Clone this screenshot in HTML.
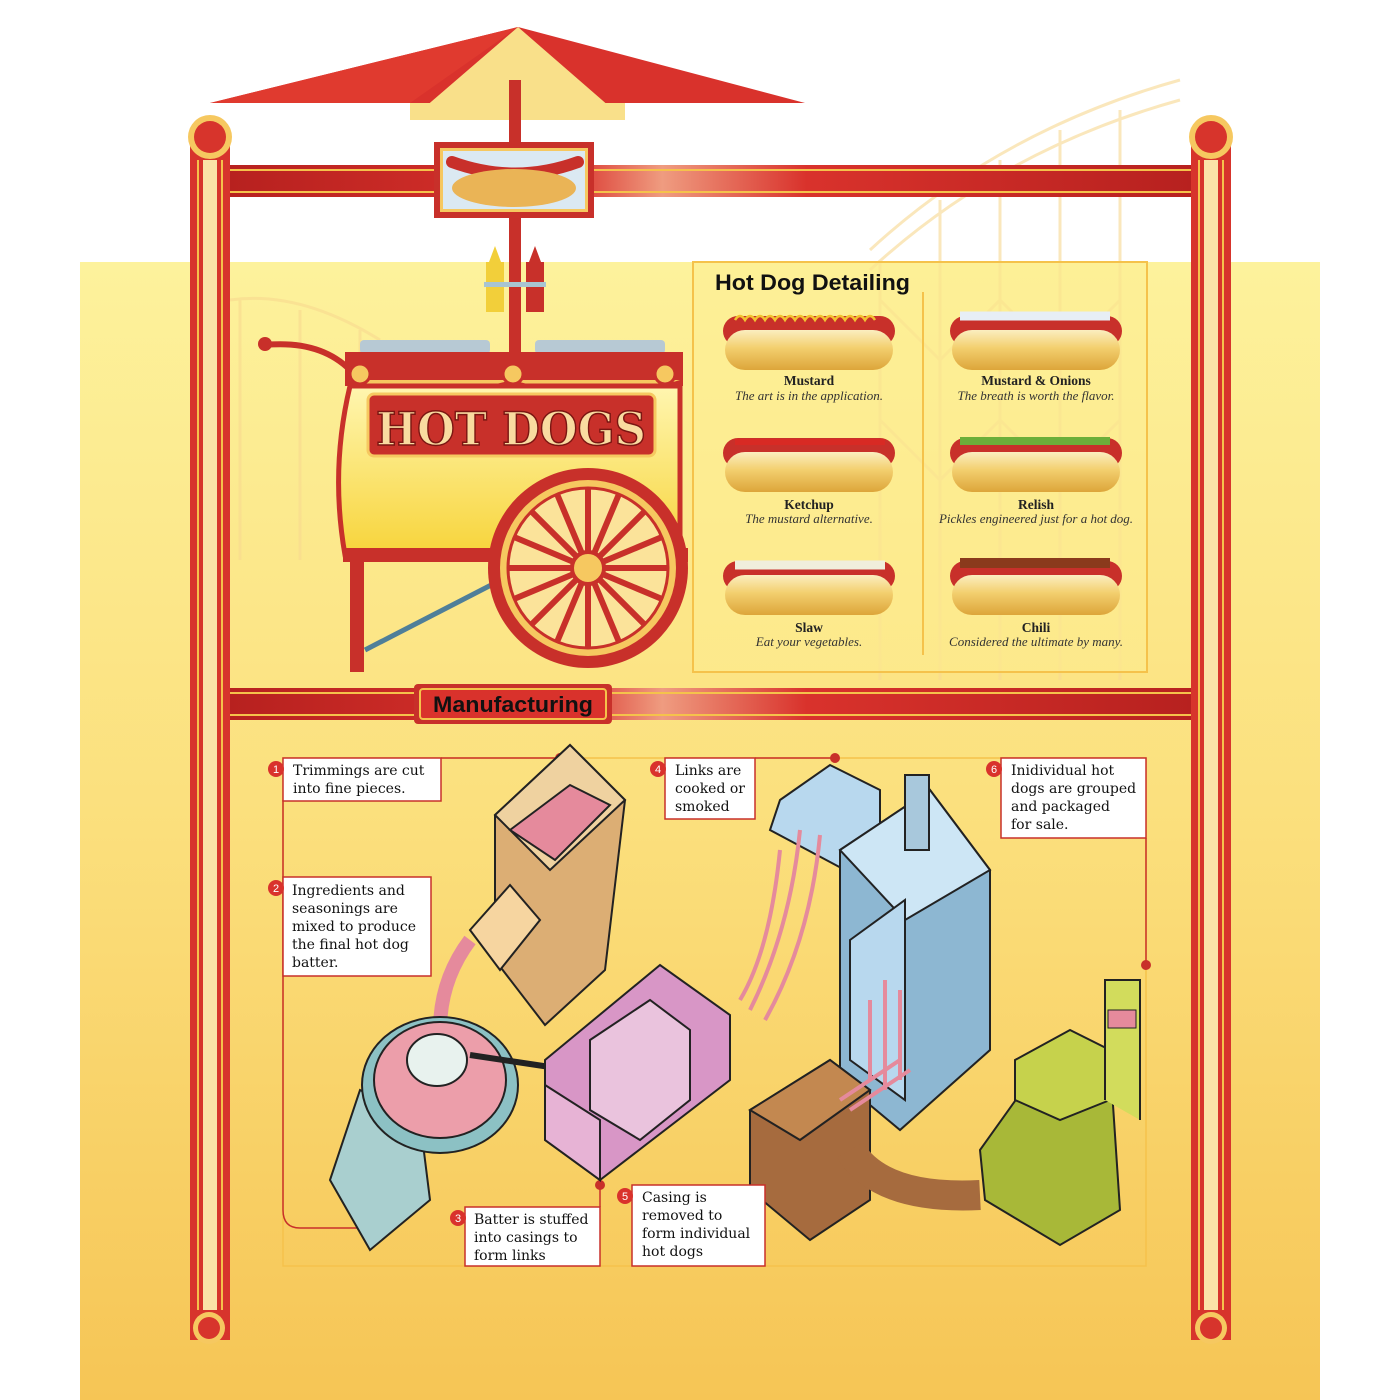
<!DOCTYPE html>
<html><head><meta charset="utf-8"><style>
html,body{margin:0;padding:0;background:#fff}
svg{display:block}
.c{font-family:"Liberation Serif",serif;font-size:13.5px;font-weight:bold;fill:#222;text-anchor:middle}
.ci{font-family:"Liberation Serif",serif;font-size:13px;font-style:italic;fill:#333;text-anchor:middle}
</style></head><body>
<svg width="1400" height="1400" viewBox="0 0 1400 1400" xmlns="http://www.w3.org/2000/svg">
<defs>
<linearGradient id="bg" x1="0" y1="0" x2="0" y2="1"><stop offset="0" stop-color="#fdf29c"/><stop offset="0.5" stop-color="#fbdf7c"/><stop offset="1" stop-color="#f6c555"/></linearGradient>
<linearGradient id="bar" x1="0" y1="0" x2="1" y2="0"><stop offset="0" stop-color="#b7211f"/><stop offset="0.35" stop-color="#d9322c"/><stop offset="0.45" stop-color="#ef9c80"/><stop offset="0.6" stop-color="#d9322c"/><stop offset="1" stop-color="#b7211f"/></linearGradient>
<linearGradient id="bun" x1="0" y1="0" x2="0" y2="1"><stop offset="0" stop-color="#fbeec0"/><stop offset="0.45" stop-color="#f3cf6e"/><stop offset="1" stop-color="#dda53a"/></linearGradient>
<linearGradient id="cart" x1="0" y1="0" x2="0" y2="1"><stop offset="0" stop-color="#fff6b0"/><stop offset="1" stop-color="#f7d43a"/></linearGradient>
<g id="bunG">
<rect x="-86" y="-22" width="172" height="30" rx="15" fill="#c8302a"/>
<rect x="-84" y="-8" width="168" height="40" rx="20" fill="url(#bun)"/>
</g>
</defs>
<rect x="80" y="262" width="1240" height="1138" fill="url(#bg)"/>
<g stroke="#f8d890" stroke-width="3" fill="none" opacity="0.6">
<path d="M870 250 Q1000 130 1180 80"/><path d="M870 270 Q1000 150 1180 100"/>
<path d="M880 260 V680 M940 200 V680 M1000 160 V680 M1060 130 V680 M1120 110 V680"/>
<path d="M880 300 L940 360 L1000 300 L1060 360 L1120 300 M880 420 L940 480 L1000 420 L1060 480 L1120 420"/>
<path d="M240 300 V560 M300 310 V560 M360 330 V560 M230 300 Q300 290 380 340"/>
</g>
<polygon points="518,27 210,103 805,103" fill="#d9322c"/>
<polygon points="518,27 410,120 625,120" fill="#f9e08a"/>
<polygon points="410,103 625,103 625,120 410,120" fill="#f9e08a"/>
<polygon points="518,27 210,103 410,103" fill="#e03a2f"/>
<rect x="509" y="80" width="12" height="280" fill="#c8302a"/>
<g>
<rect x="190" y="140" width="40" height="1200" fill="#d7342c"/>
<rect x="203" y="160" width="14" height="1150" fill="#fbe3a8"/>
<line x1="198" y1="160" x2="198" y2="1310" stroke="#f5c24b" stroke-width="2"/><line x1="222" y1="160" x2="222" y2="1310" stroke="#f5c24b" stroke-width="2"/>
<circle cx="210" cy="137" r="22" fill="#f6c860"/><circle cx="210" cy="137" r="16" fill="#d7342c"/>
<circle cx="209" cy="1328" r="16" fill="#f6c860"/><circle cx="209" cy="1328" r="11" fill="#d7342c"/>
<rect x="1191" y="140" width="40" height="1200" fill="#d7342c"/>
<rect x="1204" y="160" width="14" height="1150" fill="#fbe3a8"/>
<line x1="1199" y1="160" x2="1199" y2="1310" stroke="#f5c24b" stroke-width="2"/><line x1="1223" y1="160" x2="1223" y2="1310" stroke="#f5c24b" stroke-width="2"/>
<circle cx="1211" cy="137" r="22" fill="#f6c860"/><circle cx="1211" cy="137" r="16" fill="#d7342c"/>
<circle cx="1211" cy="1328" r="16" fill="#f6c860"/><circle cx="1211" cy="1328" r="11" fill="#d7342c"/>
</g>
<rect x="230" y="165" width="961" height="32" fill="url(#bar)"/>
<line x1="230" y1="170" x2="1191" y2="170" stroke="#f5c24b" stroke-width="2"/><line x1="230" y1="192" x2="1191" y2="192" stroke="#f5c24b" stroke-width="2"/>
<rect x="230" y="688" width="961" height="32" fill="url(#bar)"/>
<line x1="230" y1="693" x2="1191" y2="693" stroke="#f5c24b" stroke-width="2"/><line x1="230" y1="715" x2="1191" y2="715" stroke="#f5c24b" stroke-width="2"/>
<rect x="434" y="142" width="160" height="76" fill="#c8302a"/>
<rect x="440" y="148" width="148" height="64" fill="#f6c860"/>
<rect x="443" y="151" width="142" height="58" fill="#dbe9f2"/>
<path d="M452 162 Q515 185 578 162" stroke="#c8302a" stroke-width="12" fill="none" stroke-linecap="round"/>
<ellipse cx="514" cy="188" rx="62" ry="19" fill="#eab456"/>
<rect x="486" y="262" width="18" height="50" fill="#f2cf3a"/><polygon points="489,262 495,246 501,262" fill="#f2cf3a"/>
<rect x="526" y="262" width="18" height="50" fill="#c8302a"/><polygon points="529,262 535,246 541,262" fill="#c8302a"/>
<rect x="484" y="282" width="62" height="5" fill="#a8c4d2"/>
<path d="M265 345 Q320 340 350 370" stroke="#c8302a" stroke-width="6" fill="none"/><circle cx="265" cy="344" r="7" fill="#c8302a"/>
<rect x="360" y="340" width="130" height="14" rx="4" fill="#b7c9d4"/><rect x="535" y="340" width="130" height="14" rx="4" fill="#b7c9d4"/>
<rect x="345" y="352" width="338" height="34" fill="#c8302a"/>
<path d="M350 380 Q420 405 512 380 Q600 405 680 380" fill="#f6c860"/>
<path d="M350 386 L680 386 L680 555 L345 555 Q330 470 350 386Z" fill="url(#cart)" stroke="#c8302a" stroke-width="5"/>
<rect x="368" y="394" width="287" height="62" rx="6" fill="#c8302a" stroke="#f6c860" stroke-width="3"/>
<text x="511" y="445" text-anchor="middle" font-family="DejaVu Serif,serif" font-size="46" font-weight="bold" fill="#f9dba0" stroke="#7a1612" stroke-width="1.5" textLength="270" lengthAdjust="spacingAndGlyphs">HOT DOGS</text>
<circle cx="360" cy="374" r="10" fill="#f6c860" stroke="#c8302a" stroke-width="3"/><circle cx="513" cy="374" r="10" fill="#f6c860" stroke="#c8302a" stroke-width="3"/><circle cx="665" cy="374" r="10" fill="#f6c860" stroke="#c8302a" stroke-width="3"/>
<rect x="343" y="548" width="345" height="14" fill="#c8302a"/>
<rect x="350" y="560" width="14" height="112" fill="#c8302a"/>
<line x1="365" y1="650" x2="530" y2="565" stroke="#4f7f99" stroke-width="5"/>
<circle cx="588" cy="568" r="100" fill="#c8302a"/><circle cx="588" cy="568" r="88" fill="#f6c860"/><circle cx="588" cy="568" r="80" fill="#fbe39a" stroke="#c8302a" stroke-width="3"/>
<g stroke="#c8302a" stroke-width="6"><line x1="588" y1="488" x2="588" y2="648"/><line x1="508" y1="568" x2="668" y2="568"/><line x1="531" y1="511" x2="645" y2="625"/><line x1="645" y1="511" x2="531" y2="625"/><line x1="557" y1="494" x2="619" y2="642"/><line x1="619" y1="494" x2="557" y2="642"/><line x1="514" y1="537" x2="662" y2="599"/><line x1="514" y1="599" x2="662" y2="537"/></g>
<circle cx="588" cy="568" r="16" fill="#f6c860" stroke="#c8302a" stroke-width="4"/>
<rect x="693" y="262" width="454" height="410" fill="#fdee92" fill-opacity="0.5" stroke="#f5c24b" stroke-width="2"/>
<line x1="923" y1="292" x2="923" y2="655" stroke="#f5c24b" stroke-width="2"/>
<text x="715" y="290" font-family="Liberation Sans,sans-serif" font-size="22" font-weight="bold" fill="#111" textLength="195" lengthAdjust="spacingAndGlyphs">Hot Dog Detailing</text>
<use href="#bunG" x="809" y="338"/><use href="#bunG" x="1036" y="338"/>
<use href="#bunG" x="809" y="460"/><use href="#bunG" x="1036" y="460"/>
<use href="#bunG" x="809" y="583"/><use href="#bunG" x="1036" y="583"/>
<path d="M735 320 q5 -8 10 0 q5 -8 10 0 q5 -8 10 0 q5 -8 10 0 q5 -8 10 0 q5 -8 10 0 q5 -8 10 0 q5 -8 10 0 q5 -8 10 0 q5 -8 10 0 q5 -8 10 0 q5 -8 10 0 q5 -8 10 0 q5 -8 10 0" stroke="#f2c230" stroke-width="2.5" fill="none"/>
<path d="M960 316 h150" stroke="#e7eef5" stroke-width="9"/>
<path d="M735 442 h150" stroke="#d82a24" stroke-width="6"/>
<path d="M960 441 h150" stroke="#6cae3a" stroke-width="8"/>
<path d="M735 565 h150" stroke="#f0eedc" stroke-width="9"/>
<path d="M960 563 h150" stroke="#8a3a1c" stroke-width="10"/>
<text class="c" x="809" y="385">Mustard</text><text class="ci" x="809" y="400">The art is in the application.</text>
<text class="c" x="1036" y="385">Mustard &amp; Onions</text><text class="ci" x="1036" y="400">The breath is worth the flavor.</text>
<text class="c" x="809" y="509">Ketchup</text><text class="ci" x="809" y="523">The mustard alternative.</text>
<text class="c" x="1036" y="509">Relish</text><text class="ci" x="1036" y="523">Pickles engineered just for a hot dog.</text>
<text class="c" x="809" y="632">Slaw</text><text class="ci" x="809" y="646">Eat your vegetables.</text>
<text class="c" x="1036" y="632">Chili</text><text class="ci" x="1036" y="646">Considered the ultimate by many.</text>
<rect x="414" y="684" width="198" height="40" rx="4" fill="#c8302a"/>
<rect x="420" y="689" width="186" height="30" rx="3" fill="#d9322c" stroke="#f5c24b" stroke-width="2"/>
<text x="513" y="712" text-anchor="middle" font-family="Liberation Sans,sans-serif" font-size="22" font-weight="bold" fill="#111" textLength="160" lengthAdjust="spacingAndGlyphs">Manufacturing</text>
<rect x="283" y="758" width="863" height="508" fill="none" stroke="#f5c24b" stroke-width="1.5"/>
<g stroke="#c8302a" stroke-width="1.5" fill="none">
<path d="M441 758 H560"/><path d="M283 800 V1210 Q283 1228 300 1228 H365"/><path d="M755 758 H835"/><path d="M1146 838 V965"/><path d="M600 1185 V1207"/><path d="M765 1185 H785"/>
</g>
<g fill="#c8302a"><circle cx="560" cy="758" r="5"/><circle cx="365" cy="1228" r="5"/><circle cx="835" cy="758" r="5"/><circle cx="1146" cy="965" r="5"/><circle cx="600" cy="1185" r="5"/><circle cx="785" cy="1185" r="5"/></g>
<g stroke="#222" stroke-width="2">
<polygon points="495,815 570,745 625,800 605,970 545,1025 495,960" fill="#dcae74"/>
<polygon points="495,815 570,745 625,800 550,870" fill="#efd2a0"/>
<polygon points="510,830 570,785 610,805 555,860" fill="#e58a9c"/>
<polygon points="470,930 510,885 540,920 500,970" fill="#f6d5a0"/>
<path d="M470 940 Q440 980 440 1030" stroke="#e58a9c" stroke-width="14" fill="none"/>
<polygon points="330,1180 360,1090 420,1120 430,1200 370,1250" fill="#a9cfcf"/>
<ellipse cx="440" cy="1085" rx="78" ry="68" fill="#8cc1c4"/>
<ellipse cx="440" cy="1080" rx="66" ry="58" fill="#ec9eaa"/>
<ellipse cx="437" cy="1060" rx="30" ry="26" fill="#e8f2ee"/>
<line x1="470" y1="1055" x2="570" y2="1070" stroke-width="6"/>
<polygon points="545,1060 660,965 730,1015 730,1080 600,1180 545,1140" fill="#d896c6"/>
<polygon points="545,1140 600,1180 600,1120 545,1085" fill="#e7b3d5"/>
<polygon points="590,1040 650,1000 690,1030 690,1100 640,1140 590,1110" fill="#eac3dd"/>
<polygon points="780,800 830,765 880,790 880,850 845,870 770,830" fill="#b8d8ee"/>
<polygon points="840,850 930,790 990,870 990,1050 900,1130 840,1080" fill="#8db7d2"/>
<polygon points="840,850 930,790 990,870 905,920" fill="#cde6f5"/>
<polygon points="850,940 905,900 905,1100 850,1060" fill="#b8d8ee"/>
<rect x="905" y="775" width="24" height="75" fill="#a8c8dc"/>
<polygon points="750,1110 830,1060 870,1090 870,1200 810,1240 750,1190" fill="#a66b3e"/>
<polygon points="750,1110 830,1060 870,1090 800,1140" fill="#c38850"/>
<path d="M850 1150 Q880 1200 980 1195" stroke="#a66b3e" stroke-width="30" fill="none"/>
<polygon points="980,1150 1030,1080 1110,1060 1120,1210 1060,1245 985,1200" fill="#a8b838"/>
<polygon points="1015,1060 1070,1030 1110,1050 1110,1100 1060,1120 1015,1100" fill="#c6d24c"/>
<path d="M1105 1100 V980 H1140 V1120" fill="#d2dc5c"/>
<rect x="1108" y="1010" width="28" height="18" fill="#e58a9c" stroke-width="1"/>
</g>
<g stroke="#e58a9c" stroke-width="4" fill="none">
<path d="M780 850 Q770 950 740 1000"/><path d="M800 830 Q790 930 750 1010"/><path d="M820 835 Q810 940 765 1020"/>
<path d="M870 1000 V1080 M885 980 V1090 M900 990 V1080"/>
<path d="M840 1100 L900 1060 M850 1110 L910 1070"/>
</g>
<g font-family="DejaVu Serif,serif" font-size="14" fill="#111">
<rect x="283" y="758" width="158" height="43" fill="#fff" stroke="#c8302a" stroke-width="1.5"/>
<text x="293" y="775">Trimmings are cut</text><text x="293" y="793">into fine pieces.</text>
<rect x="283" y="877" width="148" height="99" fill="#fff" stroke="#c8302a" stroke-width="1.5"/>
<text x="292" y="895">Ingredients and</text><text x="292" y="913">seasonings are</text><text x="292" y="931">mixed to produce</text><text x="292" y="949">the final hot dog</text><text x="292" y="967">batter.</text>
<rect x="465" y="1207" width="135" height="59" fill="#fff" stroke="#c8302a" stroke-width="1.5"/>
<text x="474" y="1224">Batter is stuffed</text><text x="474" y="1242">into casings to</text><text x="474" y="1260">form links</text>
<rect x="665" y="758" width="90" height="61" fill="#fff" stroke="#c8302a" stroke-width="1.5"/>
<text x="675" y="775">Links are</text><text x="675" y="793">cooked or</text><text x="675" y="811">smoked</text>
<rect x="632" y="1185" width="133" height="81" fill="#fff" stroke="#c8302a" stroke-width="1.5"/>
<text x="642" y="1202">Casing is</text><text x="642" y="1220">removed to</text><text x="642" y="1238">form individual</text><text x="642" y="1256">hot dogs</text>
<rect x="1001" y="758" width="145" height="80" fill="#fff" stroke="#c8302a" stroke-width="1.5"/>
<text x="1011" y="775">Inidividual hot</text><text x="1011" y="793">dogs are grouped</text><text x="1011" y="811">and packaged</text><text x="1011" y="829">for sale.</text>
</g>
<g fill="#d9322c"><circle cx="276" cy="769" r="8"/><circle cx="276" cy="888" r="8"/><circle cx="458" cy="1218" r="8"/><circle cx="658" cy="769" r="8"/><circle cx="625" cy="1196" r="8"/><circle cx="994" cy="769" r="8"/></g>
<g font-family="Liberation Sans,sans-serif" font-size="11" fill="#fff" text-anchor="middle">
<text x="276" y="773">1</text><text x="276" y="892">2</text><text x="458" y="1222">3</text><text x="658" y="773">4</text><text x="625" y="1200">5</text><text x="994" y="773">6</text>
</g>
</svg>
</body></html>
